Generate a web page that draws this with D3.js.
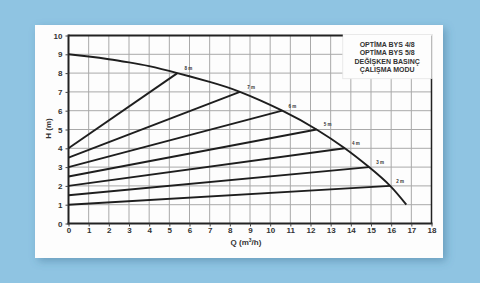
<!DOCTYPE html>
<html>
<head>
<meta charset="utf-8">
<script src="https://cdn.jsdelivr.net/npm/d3@7"></script>
<style>
  body { margin: 0; background: #8fc4e2; }
  svg { display: block; }
</style>
</head>
<body>
<div id="chart"></div>
<script>
// chart data
var xTicks = d3.range(0, 19, 1);
var yTicks = d3.range(0, 11, 1);

// pump curve (max)
var curveQ = [0, 1, 2, 3, 4, 5.4, 7, 8.5, 10.6, 12.3, 13.7, 14.9, 15.95, 16.75];
var curveH = [9, 8.88, 8.74, 8.57, 8.37, 8, 7.53, 7, 6, 5, 4, 3, 2, 1];

// proportional pressure lines
var levelNames = ["8 m", "7 m", "6 m", "5 m", "4 m", "3 m", "2 m"];
var levelStartH = [4, 3.5, 3, 2.5, 2, 1.5, 1];
var levelEndQ = [5.4, 8.5, 10.6, 12.3, 13.7, 14.9, 15.95];
var levelEndH = [8, 7, 6, 5, 4, 3, 2];
var labelQ = [5.95, 9.05, 11.1, 12.85, 14.25, 15.45, 16.45];
var labelH = [8.17, 7.17, 6.17, 5.17, 4.17, 3.17, 2.17];

var legendLines = ["OPTİMA BYS 4/8", "OPTİMA BYS 5/8", "DEĞİŞKEN BASINÇ", "ÇALIŞMA MODU"];

var W = 480, H = 283;
var margin = {top: 35.5, left: 68.5, right: 48.5, bottom: 59.5};
var width = W - margin.left - margin.right,
    height = H - margin.top - margin.bottom;

var root = d3.select("#chart").append("svg")
  .attr("width", W)
  .attr("height", H);

// shadow + card
var defs = root.append("defs");
var f = defs.append("filter").attr("id", "sh").attr("x", "-10%").attr("y", "-10%").attr("width", "130%").attr("height", "130%");
f.append("feDropShadow").attr("dx", 3).attr("dy", 3).attr("stdDeviation", 4)
  .attr("flood-color", "#3a6f90").attr("flood-opacity", 0.45);

root.append("rect")
  .attr("x", 35).attr("y", 25).attr("width", 408).attr("height", 233)
  .attr("fill", "#fdfdfd")
  .attr("filter", "url(#sh)");

var svg = root.append("g")
  .attr("transform", "translate(" + margin.left + "," + margin.top + ")");

var x = d3.scaleLinear().domain([0, 18]).range([0, width]);
var y = d3.scaleLinear().domain([0, 10]).range([height, 0]);

// grid
svg.append("g").selectAll("line").data(xTicks.slice(1, -1)).enter().append("line")
  .attr("x1", function(d) { return x(d); }).attr("x2", function(d) { return x(d); })
  .attr("y1", 0).attr("y2", height)
  .attr("stroke", "#a9a9a9").attr("stroke-width", 1);
svg.append("g").selectAll("line").data(yTicks.slice(1, -1)).enter().append("line")
  .attr("y1", function(d) { return y(d); }).attr("y2", function(d) { return y(d); })
  .attr("x1", 0).attr("x2", width)
  .attr("stroke", "#a9a9a9").attr("stroke-width", 1);

// legend box covering the top right of the grid
var lx0 = x(13.6), ly1 = y(7.7);
svg.append("rect")
  .attr("x", lx0).attr("y", -1).attr("width", width - lx0 + 1).attr("height", ly1 + 1)
  .attr("fill", "#fdfdfd").attr("stroke", "#e4e4e4").attr("stroke-width", 0.8);

svg.append("g").selectAll("text").data(legendLines).enter().append("text")
  .attr("x", (lx0 + width) / 2)
  .attr("y", function(d, i) { return 11 + i * 8.5; })
  .attr("text-anchor", "middle")
  .attr("font-family", "Liberation Sans, Arial, sans-serif")
  .attr("font-weight", "bold")
  .attr("font-size", "7px")
  .attr("fill", "#333")
  .text(function(d) { return d; });

// frame
var frame = svg.append("g").attr("stroke", "#222").attr("fill", "none");
frame.append("line").attr("x1", 0).attr("x2", lx0).attr("y1", 0).attr("y2", 0).attr("stroke-width", 2);
frame.append("line").attr("x1", width).attr("x2", width).attr("y1", ly1).attr("y2", height).attr("stroke-width", 1.5);
frame.append("line").attr("x1", width).attr("x2", width).attr("y1", 0).attr("y2", ly1).attr("stroke", "#bbb").attr("stroke-width", 1);
frame.append("line").attr("x1", 0).attr("x2", 0).attr("y1", -1).attr("y2", height + 1).attr("stroke-width", 2);
frame.append("line").attr("x1", -1).attr("x2", width + 1).attr("y1", height).attr("y2", height).attr("stroke-width", 2);

// axes (labels only)
var xAxis = svg.append("g")
  .attr("transform", "translate(0," + height + ")")
  .call(d3.axisBottom(x).tickValues(xTicks).tickSize(3).tickFormat(d3.format("d")));
var yAxis = svg.append("g")
  .call(d3.axisLeft(y).tickValues(yTicks).tickSize(3).tickFormat(d3.format("d")));
[xAxis, yAxis].forEach(function(a) {
  a.select(".domain").remove();
  a.selectAll("line").attr("stroke", "#444");
  a.selectAll("text")
    .attr("font-family", "Liberation Sans, Arial, sans-serif")
    .attr("font-weight", "bold")
    .attr("font-size", "8px")
    .attr("fill", "#333");
});
xAxis.selectAll("text").attr("dy", "0.6em").attr("y", 5);
yAxis.selectAll("text").attr("x", -6);

// axis titles
svg.append("text")
  .attr("x", width / 2 - 4).attr("y", height + 21)
  .attr("text-anchor", "middle")
  .attr("font-family", "Liberation Sans, Arial, sans-serif")
  .attr("font-weight", "bold").attr("font-size", "8px").attr("fill", "#333")
  .html("Q (m<tspan baseline-shift='super' font-size='5px'>3</tspan>/h)");

svg.append("text")
  .attr("transform", "translate(-18," + (height / 2 - 1) + ") rotate(-90)")
  .attr("text-anchor", "middle")
  .attr("font-family", "Liberation Sans, Arial, sans-serif")
  .attr("font-weight", "bold").attr("font-size", "8px").attr("fill", "#333")
  .text("H (m)");

// proportional pressure lines
svg.append("g").selectAll("line").data(levelNames).enter().append("line")
  .attr("x1", x(0))
  .attr("y1", function(d, i) { return y(levelStartH[i]); })
  .attr("x2", function(d, i) { return x(levelEndQ[i]); })
  .attr("y2", function(d, i) { return y(levelEndH[i]); })
  .attr("stroke", "#1e1e1e").attr("stroke-width", 1.9);

// pump curve
var line = d3.line()
  .x(function(d) { return x(d[0]); })
  .y(function(d) { return y(d[1]); })
  .curve(d3.curveNatural);
svg.append("path")
  .datum(d3.zip(curveQ, curveH))
  .attr("d", line)
  .attr("fill", "none")
  .attr("stroke", "#1e1e1e").attr("stroke-width", 1.9);

// level labels
svg.append("g").selectAll("text").data(levelNames).enter().append("text")
  .attr("x", function(d, i) { return x(labelQ[i]); })
  .attr("y", function(d, i) { return y(labelH[i]); })
  .attr("text-anchor", "middle")
  .attr("font-family", "Liberation Sans, Arial, sans-serif")
  .attr("font-weight", "bold").attr("font-size", "4.5px").attr("fill", "#333")
  .text(function(d) { return d; });
</script>
</body>
</html>
